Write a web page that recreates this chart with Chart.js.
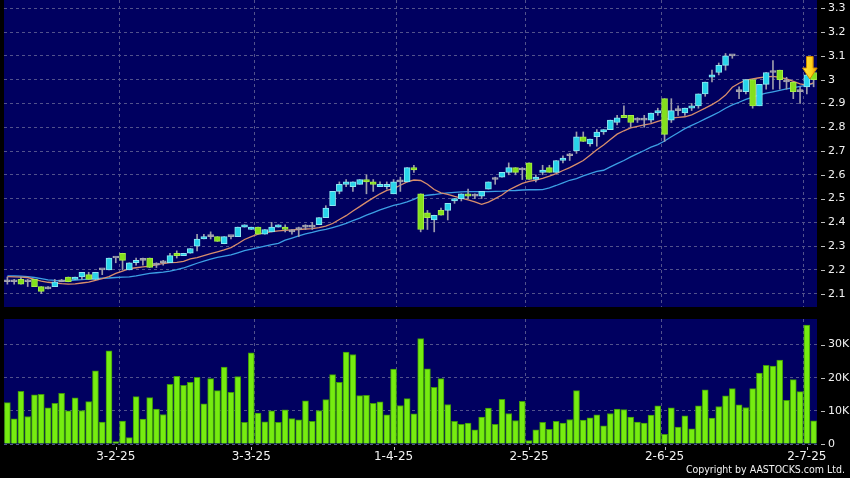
<!DOCTYPE html>
<html>
<head>
<meta charset="utf-8">
<script src="https://cdn.jsdelivr.net/npm/chart.js@4.4.1/dist/chart.umd.min.js"></script>
<style>
    html, body { margin: 0; padding: 0; background: #000; width: 850px; height: 478px; overflow: hidden; }
    #priceChart { position: absolute; left: 0; top: 0; }
    #volumeChart { position: absolute; left: 0; top: 310px; }
    #copyright {
        position: absolute; right: 5px; top: 463px;
        color: #f2f2f2; font-family: "DejaVu Sans Condensed", "DejaVu Sans", sans-serif;
        font-stretch: condensed; font-size: 10.5px; white-space: nowrap;
    }
</style>
</head>
<body>
<canvas id="priceChart" width="850" height="307"></canvas>
<canvas id="volumeChart" width="850" height="168"></canvas>
<div id="copyright">Copyright by AASTOCKS.com Ltd.</div>
<script>
// daily candles, oldest first
const opens = [
    2.15, 2.15, 2.16, 2.15, 2.16, 2.13, 2.12, 2.13, 2.15, 2.17,
    2.16, 2.17, 2.18, 2.16, 2.20, 2.20, 2.25, 2.27, 2.20, 2.23,
    2.24, 2.25, 2.22, 2.23, 2.23, 2.27, 2.26, 2.27, 2.30, 2.33,
    2.34, 2.34, 2.31, 2.34, 2.34, 2.38, 2.37, 2.38, 2.35, 2.36,
    2.38, 2.38, 2.36, 2.37, 2.38, 2.38, 2.39, 2.42, 2.47, 2.53,
    2.56, 2.55, 2.56, 2.58, 2.57, 2.55, 2.55, 2.52, 2.57, 2.57,
    2.63, 2.52, 2.44, 2.41, 2.45, 2.45, 2.49, 2.50, 2.52, 2.51,
    2.51, 2.54, 2.58, 2.59, 2.61, 2.63, 2.62, 2.65, 2.58, 2.61,
    2.63, 2.61, 2.66, 2.68, 2.70, 2.76, 2.73, 2.76, 2.78, 2.79,
    2.82, 2.85, 2.85, 2.83, 2.83, 2.83, 2.86, 2.92, 2.83, 2.87,
    2.86, 2.88, 2.89, 2.94, 3.01, 3.03, 3.06, 3.10, 2.95, 2.95,
    3.00, 2.89, 2.98, 3.03, 3.04, 2.99, 2.99, 2.95, 2.97, 3.03
];
const highs = [
    2.17, 2.16, 2.17, 2.16, 2.16, 2.13, 2.13, 2.16, 2.16, 2.17,
    2.17, 2.19, 2.19, 2.19, 2.20, 2.25, 2.25, 2.27, 2.23, 2.25,
    2.25, 2.25, 2.23, 2.24, 2.27, 2.28, 2.27, 2.29, 2.35, 2.35,
    2.36, 2.34, 2.34, 2.34, 2.38, 2.39, 2.38, 2.38, 2.37, 2.40,
    2.39, 2.39, 2.37, 2.38, 2.39, 2.40, 2.42, 2.47, 2.53, 2.57,
    2.58, 2.57, 2.58, 2.60, 2.58, 2.57, 2.57, 2.58, 2.59, 2.63,
    2.64, 2.52, 2.45, 2.43, 2.46, 2.48, 2.50, 2.52, 2.54, 2.52,
    2.53, 2.57, 2.59, 2.61, 2.65, 2.63, 2.63, 2.65, 2.60, 2.64,
    2.64, 2.66, 2.68, 2.69, 2.78, 2.78, 2.75, 2.79, 2.79, 2.83,
    2.85, 2.89, 2.85, 2.84, 2.85, 2.86, 2.88, 2.92, 2.92, 2.89,
    2.88, 2.90, 2.94, 2.99, 3.04, 3.07, 3.11, 3.10, 2.97, 3.00,
    3.00, 2.98, 3.03, 3.08, 3.04, 3.01, 2.99, 2.97, 3.03, 3.03
];
const lows = [
    2.14, 2.14, 2.14, 2.13, 2.13, 2.10, 2.12, 2.13, 2.15, 2.15,
    2.16, 2.16, 2.16, 2.16, 2.18, 2.20, 2.23, 2.20, 2.20, 2.22,
    2.22, 2.21, 2.21, 2.22, 2.23, 2.25, 2.26, 2.27, 2.28, 2.33,
    2.33, 2.32, 2.31, 2.33, 2.34, 2.38, 2.37, 2.35, 2.35, 2.36,
    2.38, 2.36, 2.35, 2.34, 2.37, 2.37, 2.39, 2.42, 2.47, 2.52,
    2.55, 2.53, 2.56, 2.52, 2.53, 2.55, 2.54, 2.52, 2.53, 2.57,
    2.61, 2.36, 2.37, 2.36, 2.43, 2.41, 2.48, 2.49, 2.50, 2.50,
    2.50, 2.54, 2.56, 2.59, 2.60, 2.60, 2.58, 2.58, 2.57, 2.60,
    2.61, 2.61, 2.65, 2.66, 2.69, 2.74, 2.72, 2.72, 2.77, 2.79,
    2.81, 2.84, 2.80, 2.82, 2.80, 2.82, 2.85, 2.74, 2.82, 2.85,
    2.85, 2.87, 2.88, 2.93, 2.99, 3.02, 3.04, 3.09, 2.92, 2.94,
    2.88, 2.89, 2.96, 2.96, 2.96, 2.96, 2.92, 2.90, 2.94, 2.97
];
const closes = [
    2.15, 2.15, 2.14, 2.15, 2.13, 2.11, 2.12, 2.15, 2.15, 2.15,
    2.17, 2.19, 2.16, 2.19, 2.20, 2.25, 2.25, 2.24, 2.23, 2.24,
    2.24, 2.21, 2.22, 2.23, 2.26, 2.26, 2.27, 2.29, 2.33, 2.34,
    2.34, 2.32, 2.34, 2.34, 2.38, 2.39, 2.38, 2.35, 2.37, 2.38,
    2.39, 2.37, 2.36, 2.37, 2.38, 2.38, 2.42, 2.46, 2.53, 2.56,
    2.57, 2.57, 2.58, 2.57, 2.56, 2.56, 2.56, 2.57, 2.57, 2.63,
    2.62, 2.37, 2.42, 2.43, 2.43, 2.48, 2.50, 2.52, 2.51, 2.51,
    2.53, 2.57, 2.58, 2.61, 2.63, 2.61, 2.62, 2.58, 2.59, 2.62,
    2.61, 2.66, 2.67, 2.68, 2.76, 2.74, 2.75, 2.78, 2.79, 2.83,
    2.84, 2.84, 2.82, 2.83, 2.83, 2.86, 2.87, 2.77, 2.87, 2.87,
    2.88, 2.89, 2.94, 2.99, 3.02, 3.06, 3.10, 3.10, 2.95, 3.00,
    2.89, 2.98, 3.03, 3.03, 3.00, 2.99, 2.95, 2.95, 3.02, 3.00
];
// volume in thousands
const volumes = [
    12.5, 7.6, 15.9, 8.3, 14.8, 15.0, 10.9, 12.3, 15.3, 10.0,
    13.9, 10.1, 12.8, 22.1, 6.6, 28.1, 0.7, 6.9, 1.9, 14.3,
    7.5, 14.0, 10.5, 8.9, 18.0, 20.4, 17.7, 18.6, 20.1, 12.1,
    19.7, 16.1, 23.2, 15.6, 20.3, 6.5, 27.5, 9.3, 6.7, 10.0,
    6.5, 10.3, 7.7, 7.3, 13.0, 6.8, 10.1, 13.4, 20.9, 18.6,
    27.7, 27.0, 14.6, 14.7, 12.3, 12.7, 8.8, 22.6, 11.6, 13.7,
    9.1, 31.8, 22.7, 17.1, 19.7, 11.9, 6.8, 5.9, 6.3, 4.3,
    8.1, 10.8, 5.9, 13.5, 9.2, 7.1, 12.9, 1.0, 4.3, 6.5,
    4.4, 6.8, 6.3, 7.4, 16.1, 7.2, 7.9, 8.8, 5.5, 9.2,
    10.5, 10.4, 8.1, 6.6, 6.3, 8.7, 11.5, 2.9, 10.9, 5.1,
    8.5, 4.6, 11.5, 16.3, 7.8, 11.3, 14.5, 16.7, 11.8, 11.0,
    16.7, 21.4, 23.7, 23.5, 25.3, 13.2, 19.4, 15.8, 35.9, 7.0
];
// short (orange) and long (blue) moving averages
const maShort = [
    2.172, 2.171, 2.170, 2.168, 2.160, 2.153, 2.148, 2.145, 2.142, 2.140,
    2.141, 2.145, 2.149, 2.156, 2.163, 2.172, 2.185, 2.195, 2.205, 2.209,
    2.213, 2.216, 2.221, 2.227, 2.231, 2.232, 2.236, 2.246, 2.252, 2.260,
    2.268, 2.276, 2.284, 2.294, 2.310, 2.328, 2.340, 2.350, 2.356, 2.361,
    2.364, 2.366, 2.368, 2.370, 2.372, 2.374, 2.378, 2.384, 2.395, 2.412,
    2.428, 2.448, 2.466, 2.485, 2.503, 2.520, 2.534, 2.542, 2.556, 2.570,
    2.578, 2.576, 2.560, 2.538, 2.524, 2.518, 2.509, 2.502, 2.494, 2.486,
    2.476, 2.485, 2.500, 2.515, 2.536, 2.550, 2.564, 2.572, 2.578, 2.585,
    2.594, 2.605, 2.618, 2.630, 2.645, 2.660, 2.682, 2.705, 2.725, 2.748,
    2.771, 2.785, 2.797, 2.804, 2.810, 2.815, 2.825, 2.833, 2.838, 2.841,
    2.844, 2.852, 2.866, 2.880, 2.895, 2.912, 2.935, 2.968, 2.985, 2.998,
    3.003, 3.008, 3.012, 3.014, 3.010, 3.003, 2.993, 2.982, 2.977, 2.986
];
const maLong = [
    2.175, 2.175, 2.174, 2.172, 2.168, 2.163, 2.158, 2.156, 2.155, 2.155,
    2.157, 2.159, 2.161, 2.163, 2.165, 2.166, 2.168, 2.170, 2.171, 2.175,
    2.180, 2.185, 2.188, 2.191, 2.195, 2.201, 2.208, 2.218, 2.228, 2.237,
    2.245, 2.253, 2.258, 2.263, 2.272, 2.281, 2.287, 2.294, 2.300, 2.306,
    2.312, 2.325, 2.334, 2.343, 2.352, 2.358, 2.365, 2.370, 2.378, 2.386,
    2.396, 2.407, 2.418, 2.430, 2.441, 2.452, 2.462, 2.471, 2.478, 2.486,
    2.497, 2.510, 2.514, 2.517, 2.521, 2.524, 2.526, 2.528, 2.529, 2.529,
    2.529, 2.529, 2.530, 2.531, 2.533, 2.534, 2.536, 2.537, 2.537, 2.538,
    2.545, 2.555, 2.566, 2.577, 2.584, 2.595, 2.605, 2.614, 2.619, 2.633,
    2.647, 2.660, 2.675, 2.689, 2.702, 2.716, 2.727, 2.742, 2.760, 2.777,
    2.794, 2.808, 2.821, 2.835, 2.849, 2.863, 2.880, 2.894, 2.905, 2.917,
    2.927, 2.936, 2.943, 2.949, 2.955, 2.961, 2.966, 2.972, 2.977, 2.984
];

const categories = opens.map((_, i) => i);
const dateTickIdx = [16, 36, 57, 77, 97, 118];
const dateTickText = ['3-2-25', '3-3-25', '1-4-25', '2-5-25', '2-6-25', '2-7-25'];
const dateGridIdx = [17, 37, 58, 77, 97, 118];
const priceTicks = [2.1, 2.2, 2.3, 2.4, 2.5, 2.6, 2.7, 2.8, 2.9, 3.0, 3.1, 3.2, 3.3];
const volTicks = [0, 10, 20, 30];
const volTickText = ['0', '10K', '20K', '30K'];
const arrowIdx = 118;

const NAVY = '#000060';
const GRID = '#52528c';
const UP = '#27d4ea', UP_EDGE = '#8ee9f3';
const DOWN = '#84e01c', DOWN_EDGE = '#a6ee48';
const FLAT = '#a6a6b0';

const bodyColors = closes.map((c, i) => c > opens[i] ? UP : (c < opens[i] ? DOWN : FLAT));
const bodyEdges = closes.map((c, i) => c > opens[i] ? UP_EDGE : (c < opens[i] ? DOWN_EDGE : FLAT));

const panelBg = {
    id: 'panelBg',
    beforeDraw(chart) {
        const { ctx, chartArea: a } = chart;
        ctx.save();
        ctx.fillStyle = NAVY;
        ctx.fillRect(a.left, a.top, a.right - a.left, a.bottom - a.top);
        ctx.restore();
    }
};

// little dashes between the panel edge and the right-hand labels
const yTickMarks = {
    id: 'yTickMarks',
    afterDraw(chart) {
        const s = chart.scales.y;
        const ctx = chart.ctx;
        ctx.save();
        ctx.strokeStyle = '#bdbdbd';
        ctx.lineWidth = 1;
        s.ticks.forEach(t => {
            const y = Math.round(s.getPixelForValue(t.value)) + 0.5;
            ctx.beginPath();
            ctx.moveTo(s.left + 4, y);
            ctx.lineTo(s.left + 8, y);
            ctx.stroke();
        });
        ctx.restore();
    }
};

const xTickMarks = {
    id: 'xTickMarks',
    afterDraw(chart) {
        const s = chart.scales.x;
        const ctx = chart.ctx;
        ctx.save();
        ctx.strokeStyle = '#bdbdbd';
        ctx.lineWidth = 1;
        dateTickIdx.forEach(i => {
            const x = Math.round(s.getPixelForValue(i)) + 0.5;
            ctx.beginPath();
            ctx.moveTo(x, s.top + 3);
            ctx.lineTo(x, s.top + 6);
            ctx.stroke();
        });
        ctx.restore();
    }
};

// yellow marker arrow over the latest session
const lastArrow = {
    id: 'lastArrow',
    afterDatasetsDraw(chart) {
        const x = chart.scales.x.getPixelForValue(arrowIdx) + 3;
        const tip = chart.scales.y.getPixelForValue(highs[arrowIdx]) + 6.5;
        const ctx = chart.ctx;
        const grad = ctx.createLinearGradient(x - 7, 0, x + 7, 0);
        grad.addColorStop(0, '#ffe640');
        grad.addColorStop(0.6, '#ffd21a');
        grad.addColorStop(1, '#f29a00');
        ctx.save();
        ctx.beginPath();
        ctx.moveTo(x - 3.3, tip - 22.5);
        ctx.lineTo(x + 3.3, tip - 22.5);
        ctx.lineTo(x + 3.3, tip - 11);
        ctx.lineTo(x + 7.3, tip - 11);
        ctx.lineTo(x, tip);
        ctx.lineTo(x - 7.3, tip - 11);
        ctx.lineTo(x - 3.3, tip - 11);
        ctx.closePath();
        ctx.fillStyle = grad;
        ctx.fill();
        ctx.strokeStyle = '#d08a00';
        ctx.lineWidth = 1;
        ctx.stroke();
        ctx.restore();
    }
};

const dateGrid = {
    offset: true,
    drawTicks: false,
    color: ctx => dateGridIdx.includes(ctx.index) ? GRID : 'transparent'
};

const noPad = s => { s.paddingTop = 0; s.paddingBottom = 0; s.paddingLeft = 0; s.paddingRight = 0; };

new Chart(document.getElementById('priceChart'), {
    type: 'bar',
    data: {
        labels: categories,
        datasets: [
            {
                data: categories.map(i => [opens[i], closes[i]]),
                grouped: false,
                barThickness: 6,
                minBarLength: 2,
                backgroundColor: bodyColors,
                borderColor: bodyEdges,
                borderWidth: 1,
                borderSkipped: false,
                order: 0
            },
            {
                data: categories.map(i => [lows[i], highs[i]]),
                grouped: false,
                barThickness: 1,
                backgroundColor: '#9d9dab',
                borderWidth: 0,
                order: 1
            },
            {
                type: 'line',
                data: maShort,
                borderColor: '#d88e6c',
                borderWidth: 1.3,
                pointRadius: 0,
                tension: 0,
                order: 2
            },
            {
                type: 'line',
                data: maLong,
                borderColor: '#3c9fe4',
                borderWidth: 1.3,
                pointRadius: 0,
                tension: 0,
                order: 3
            }
        ]
    },
    options: {
        responsive: false,
        devicePixelRatio: 1,
        animation: false,
        events: [],
        layout: { padding: { left: 4, top: 0, right: 0, bottom: 0 } },
        plugins: { legend: { display: false }, tooltip: { enabled: false } },
        scales: {
            x: {
                offset: true,
                ticks: { display: false },
                grid: dateGrid,
                border: { display: false, dash: [3, 3] },
                afterFit: s => { s.height = 0; noPad(s); }
            },
            y: {
                position: 'right',
                min: 2.044,
                max: 3.335,
                afterBuildTicks: s => { s.ticks = priceTicks.map(v => ({ value: v })); },
                ticks: {
                    color: '#f2f2f2',
                    padding: 11,
                    font: { family: 'DejaVu Sans', size: 11 },
                    callback: v => String(Number(v.toFixed(1)))
                },
                grid: { color: GRID, drawTicks: false },
                border: { display: false, dash: [3, 3] },
                afterFit: s => { s.width = 33; noPad(s); }
            }
        }
    },
    plugins: [panelBg, yTickMarks, lastArrow]
});

new Chart(document.getElementById('volumeChart'), {
    type: 'bar',
    data: {
        labels: categories,
        datasets: [{
            data: volumes,
            barThickness: 6,
            backgroundColor: '#76ec10',
            borderColor: '#3e980a',
            borderWidth: 1
        }]
    },
    options: {
        responsive: false,
        devicePixelRatio: 1,
        animation: false,
        events: [],
        layout: { padding: { left: 4, top: 9, right: 0, bottom: 0 } },
        plugins: { legend: { display: false }, tooltip: { enabled: false } },
        scales: {
            x: {
                offset: true,
                ticks: {
                    autoSkip: false,
                    maxRotation: 0,
                    color: '#f2f2f2',
                    padding: 6,
                    font: { family: 'DejaVu Sans', size: 12 },
                    callback: (v, i) => {
                        const k = dateTickIdx.indexOf(i);
                        return k >= 0 ? dateTickText[k] : '';
                    }
                },
                grid: dateGrid,
                border: { display: false, dash: [3, 3] },
                afterFit: s => { s.height = 34; noPad(s); }
            },
            y: {
                position: 'right',
                min: 0,
                max: 37.7,
                afterBuildTicks: s => { s.ticks = volTicks.map(v => ({ value: v })); },
                ticks: {
                    color: '#f2f2f2',
                    padding: 11,
                    font: { family: 'DejaVu Sans', size: 11 },
                    callback: (v, i) => volTickText[i]
                },
                grid: { color: GRID, drawTicks: false },
                border: { display: false, dash: [3, 3] },
                afterFit: s => { s.width = 33; noPad(s); }
            }
        }
    },
    plugins: [panelBg, yTickMarks, xTickMarks]
});
</script>
</body>
</html>
